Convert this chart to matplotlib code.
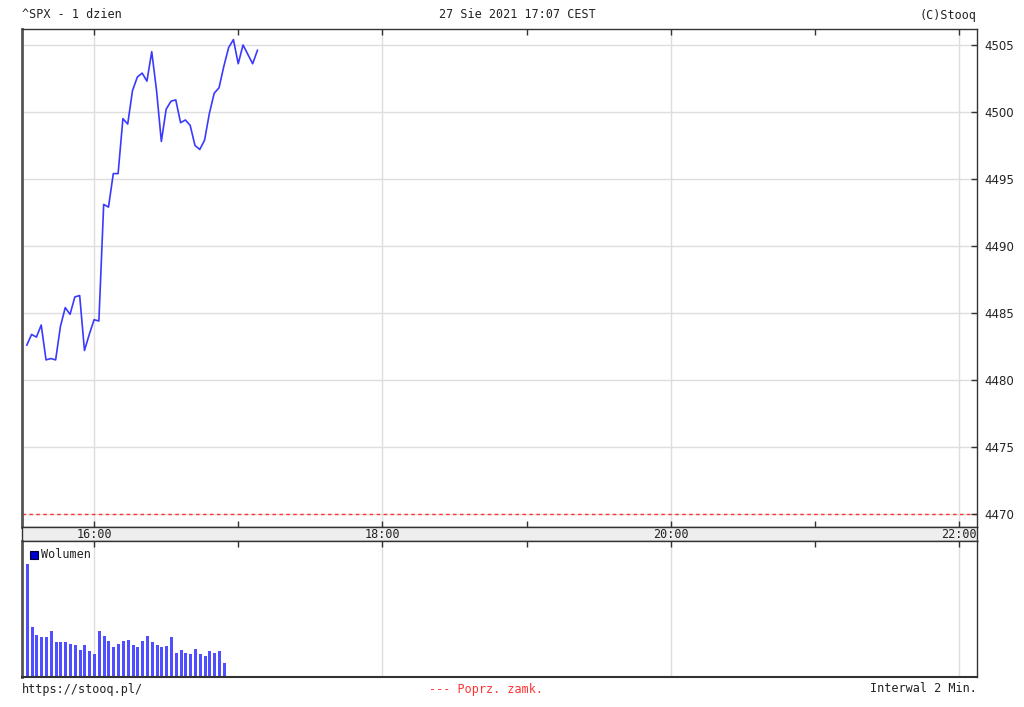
import matplotlib
matplotlib.use("Agg")
import matplotlib.pyplot as plt
import pandas as pd

# ---- data ----
price_start = "15:32"
interval_min = 2
prices = [4482.6, 4483.4, 4483.2, 4484.1, 4481.5, 4481.6, 4481.5, 4484.0, 4485.4, 4484.9,
          4486.2, 4486.3, 4482.2, 4483.4, 4484.5, 4484.4, 4493.1, 4492.9, 4495.4, 4495.4,
          4499.5, 4499.1, 4501.6, 4502.6, 4502.9, 4502.3, 4504.5, 4501.6, 4497.8, 4500.2,
          4500.8, 4500.9, 4499.2, 4499.4, 4499.0, 4497.5, 4497.2, 4497.9, 4499.9, 4501.4,
          4501.8, 4503.4, 4504.8, 4505.4, 4503.6, 4505.0, 4504.3, 4503.6, 4504.6]
volumes = [333, 146, 125, 118, 118, 136, 102, 102, 102, 98, 95, 80, 95, 76, 68, 136, 121,
           106, 88, 98, 106, 110, 95, 88, 106, 121, 102, 95, 88, 91, 117, 72, 80, 72, 68,
           83, 68, 61, 76, 72, 76, 42]
prev_close = 4470.0
y_ticks = [4470, 4475, 4480, 4485, 4490, 4495, 4500, 4505]
x_labels = ["16:00", "18:00", "20:00", "22:00"]
title_left = "^SPX - 1 dzien"
title_mid = "27 Sie 2021 17:07 CEST"
title_right = "(C)Stooq"
foot_left = "https://stooq.pl/"
foot_mid = "--- Poprz. zamk."
foot_right = "Interwal 2 Min."
legend_label = "Wolumen"

def to_hours(t):
    return t.hour + t.minute / 60.0

t_price = pd.date_range("2021-08-27 " + price_start, periods=len(prices), freq=f"{interval_min}min")
t_vol = pd.date_range("2021-08-27 " + price_start, periods=len(volumes), freq=f"{interval_min}min")
xp = [to_hours(t) for t in t_price]
xv = [to_hours(t) for t in t_vol]
label_pos = [int(s.split(":")[0]) for s in x_labels]
hour_ticks = list(range(16, 23))

W, H = 1024, 707
fig = plt.figure(figsize=(W / 100, H / 100), dpi=100)
fig.patch.set_facecolor("white")

def fx(px):
    return px / W

def fy(py):
    return 1 - py / H

L, R = 22, 977
ax = fig.add_axes([fx(L), fy(527), fx(R - L), fy(29) - fy(527)])
band = fig.add_axes([fx(L), fy(541), fx(R - L), fy(527) - fy(541)])
axv = fig.add_axes([fx(L), fy(677), fx(R - L), fy(541) - fy(677)])

XMIN, XMAX = 15.5, 22.125
mono = "DejaVu Sans Mono"
grid_c = "#dedede"
line_c = "#3a3aff"
spine_c = "#333333"

# price panel
ax.set_xlim(XMIN, XMAX)
ax.set_ylim(4469.03, 4506.19)
for y in y_ticks:
    ax.axhline(y, color=grid_c, lw=1, zorder=0)
for h in label_pos:
    ax.axvline(h, color=grid_c, lw=1, zorder=0)
ax.axhline(prev_close, color="#ff3333", lw=1, ls=(0, (2.5, 2.5)), zorder=1)
ax.plot(xp, prices, color=line_c, lw=1.2, zorder=3)
ax.yaxis.tick_right()
ax.set_yticks(y_ticks)
ax.set_yticklabels([str(v) for v in y_ticks], fontsize=8.5, family="DejaVu Sans", color="#222222")
ax.tick_params(axis="y", direction="in", length=4, width=1, pad=5, color=spine_c)
ax.set_xticks(hour_ticks)
ax.set_xticklabels([])
ax.tick_params(axis="x", direction="in", length=4, width=1, top=True, bottom=True, color=spine_c)
for s in ax.spines.values():
    s.set_color(spine_c)
    s.set_linewidth(1)
ax.spines["left"].set_linewidth(2)
ax.spines["left"].set_color("#555555")

# band with time labels
band.set_xlim(XMIN, XMAX)
band.set_ylim(0, 1)
band.set_facecolor("#eeeeee")
band.set_xticks([])
band.set_yticks([])
for s in band.spines.values():
    s.set_color(spine_c)
    s.set_linewidth(1)
for h, lab in zip(label_pos, x_labels):
    band.text(h, 0.45, lab, ha="center", va="center", fontsize=8.5, family=mono, color="#222222")

# volume panel
axv.set_xlim(XMIN, XMAX)
axv.set_ylim(0, 400)
for h in label_pos:
    axv.axvline(h, color=grid_c, lw=1, zorder=0)
axv.vlines(xv, 0, volumes, colors="#4f4fff", lw=1.0, antialiased=False, zorder=2)
axv.set_yticks([])
axv.set_xticks(hour_ticks)
axv.set_xticklabels([])
axv.tick_params(axis="x", direction="in", length=4, width=1, top=True, bottom=False, color=spine_c)
for s in axv.spines.values():
    s.set_color(spine_c)
    s.set_linewidth(1)
axv.spines["left"].set_linewidth(2)
axv.spines["left"].set_color("#555555")
axv.spines["bottom"].set_linewidth(1.5)
fig.patches.append(plt.Rectangle((fx(30), fy(559)), fx(8), fy(551) - fy(559), transform=fig.transFigure,
                                 facecolor="#0000cc", edgecolor="#000033", lw=0.8))
fig.text(fx(41), fy(555), legend_label, ha="left", va="center", fontsize=8.5, family=mono, color="#222222")

# header and footer
fig.text(fx(22), fy(15), title_left, ha="left", va="center", fontsize=8.5, family=mono, color="#222222")
fig.text(fx(517), fy(15), title_mid, ha="center", va="center", fontsize=8.5, family=mono, color="#222222")
fig.text(fx(977), fy(15), title_right, ha="right", va="center", fontsize=8.5, family=mono, color="#222222")
fig.text(fx(22), fy(689), foot_left, ha="left", va="center", fontsize=8.5, family=mono, color="#222222")
fig.text(fx(486), fy(689), foot_mid, ha="center", va="center", fontsize=8.5, family=mono, color="#ff3333")
fig.text(fx(977), fy(689), foot_right, ha="right", va="center", fontsize=8.5, family=mono, color="#222222")

fig.savefig("out.png", dpi=100)
